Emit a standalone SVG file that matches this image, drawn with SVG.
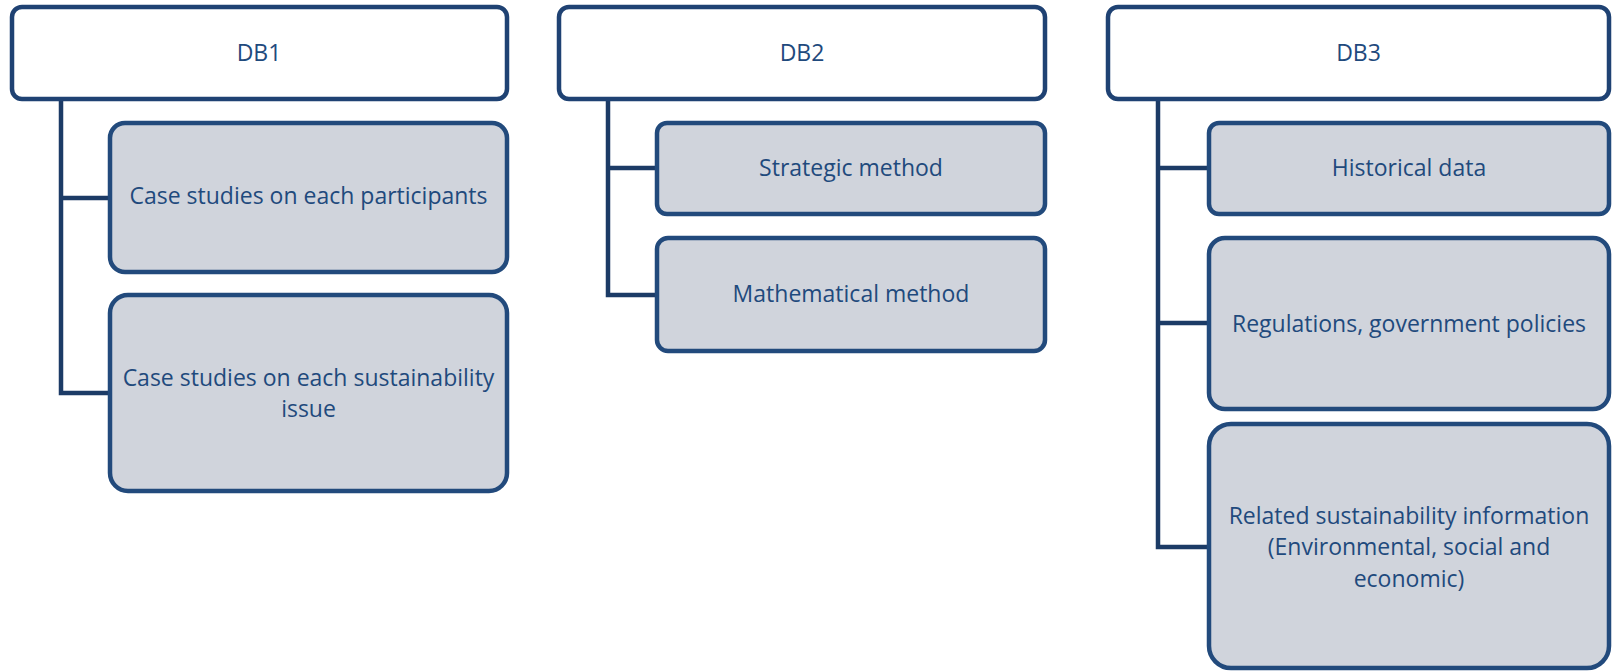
<svg xmlns="http://www.w3.org/2000/svg" width="1613" height="672" viewBox="0 0 1613 672">
  <style>
    .head { fill: #ffffff; stroke: #1f4273; stroke-width: 4.5; }
    .item { fill: #d0d4dc; stroke: #224a7c; stroke-width: 4.5; }
    .link { fill: none; stroke: #1c3b66; stroke-width: 4.5; stroke-linejoin: miter; }
    text { font-family: "Open Sans", "Noto Sans", "Liberation Sans", sans-serif; font-size: 23px; fill: #1f4a7d; text-anchor: middle; }
  </style>
  <rect width="1613" height="672" fill="#ffffff"/>

  <!-- tree connectors: trunk from each header, branches to its items -->
  <g id="connectors">
    <path class="link" d="M61 99 V393 H110 M61 198 H110"/>
    <path class="link" d="M608 99 V295 H657 M608 168 H657"/>
    <path class="link" d="M1158 99 V547 H1209 M1158 168 H1209 M1158 323 H1209"/>
  </g>

  <!-- column 1 -->
  <g id="db1">
    <rect class="head" x="12" y="7" width="495" height="92" rx="10"/>
    <text x="259" y="61">DB1</text>
  </g>
  <g id="db1-participants">
    <rect class="item" x="110" y="123" width="397" height="149" rx="15"/>
    <text x="308.5" y="204">Case studies on each participants</text>
  </g>
  <g id="db1-issues">
    <rect class="item" x="110" y="295" width="397" height="196" rx="18"/>
    <text x="308.5" y="385.75">Case studies on each sustainability</text>
    <text x="308.5" y="417.25">issue</text>
  </g>

  <!-- column 2 -->
  <g id="db2">
    <rect class="head" x="559" y="7" width="486" height="92" rx="10"/>
    <text x="802" y="61">DB2</text>
  </g>
  <g id="db2-strategic">
    <rect class="item" x="657" y="123" width="388" height="91" rx="10"/>
    <text x="851" y="176">Strategic method</text>
  </g>
  <g id="db2-mathematical">
    <rect class="item" x="657" y="238" width="388" height="113" rx="11"/>
    <text x="851" y="302">Mathematical method</text>
  </g>

  <!-- column 3 -->
  <g id="db3">
    <rect class="head" x="1108" y="7" width="501" height="92" rx="10"/>
    <text x="1358.5" y="61">DB3</text>
  </g>
  <g id="db3-historical">
    <rect class="item" x="1209" y="123" width="400" height="91" rx="10"/>
    <text x="1409" y="176">Historical data</text>
  </g>
  <g id="db3-regulations">
    <rect class="item" x="1209" y="238" width="400" height="171" rx="16"/>
    <text x="1409" y="332">Regulations, government policies</text>
  </g>
  <g id="db3-sustainability">
    <rect class="item" x="1209" y="424" width="400" height="244" rx="22"/>
    <text x="1409" y="523.5">Related sustainability information</text>
    <text x="1409" y="555">(Environmental, social and</text>
    <text x="1409" y="586.5">economic)</text>
  </g>
</svg>
